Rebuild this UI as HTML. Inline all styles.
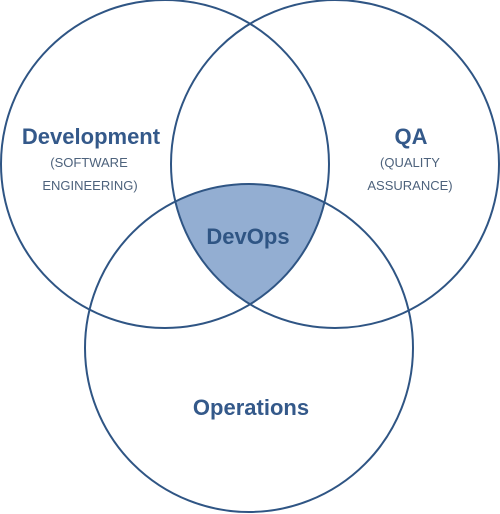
<!DOCTYPE html>
<html><head><style>body{margin:0;background:#fff}svg{display:block}</style></head>
<body>
<svg width="500" height="514" viewBox="0 0 500 514" xmlns="http://www.w3.org/2000/svg">
<defs>
<clipPath id="a"><circle cx="165" cy="164" r="164"/></clipPath>
<clipPath id="b"><circle cx="335" cy="164" r="164"/></clipPath>
</defs>
<g clip-path="url(#a)"><g clip-path="url(#b)"><circle cx="249" cy="348" r="164" fill="#93aed2"/></g></g>
<g fill="none" stroke="#2f5584" stroke-width="2">
<circle cx="165" cy="164" r="164"/>
<circle cx="335" cy="164" r="164"/>
<circle cx="249" cy="348" r="164"/>
</g>
<g font-family="Liberation Sans, sans-serif" text-anchor="middle">
<text x="91" y="144" font-size="22" font-weight="bold" fill="#34598a">Development</text>
<text x="89" y="167" font-size="13" fill="#4d627c">(SOFTWARE</text>
<text x="90" y="190" font-size="13" fill="#4d627c">ENGINEERING)</text>
<text x="411" y="144" font-size="22" font-weight="bold" fill="#34598a">QA</text>
<text x="410" y="167" font-size="13" fill="#4d627c">(QUALITY</text>
<text x="410" y="190" font-size="13" fill="#4d627c">ASSURANCE)</text>
<text x="248" y="244" font-size="22" font-weight="bold" fill="#2f5584">DevOps</text>
<text x="251" y="415" font-size="22" font-weight="bold" fill="#34598a">Operations</text>
</g>
</svg>
</body></html>
